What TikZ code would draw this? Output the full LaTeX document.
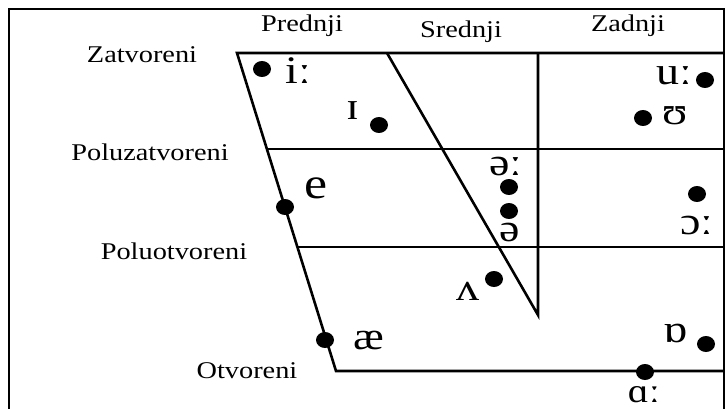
\documentclass[tikz,border=0pt]{standalone}
\usepackage{fontspec}
\setmainfont{Liberation Serif}
\usetikzlibrary{shapes.geometric}
\tikzset{
  lbl/.style={inner sep=0pt, font=\fontsize{24}{28}\selectfont},
  ipa/.style={inner sep=0pt, font=\fontsize{39}{43}\selectfont},
  vdot/.style={ellipse, fill=black, minimum width=18pt, minimum height=16pt, inner sep=0pt},
  chart/.style={line width=2.6pt, line join=miter},
  frame/.style={line width=2pt}
}
\newcommand{\wide}[1]{\scalebox{1.18}[1]{#1}}
\begin{document}
\begin{tikzpicture}[x=1pt,y=-1pt]
\useasboundingbox (0,0) rectangle (725,409);
\clip (0,0) rectangle (725,409);
% outer frame
\draw[frame] (9,420) -- (9,9) -- (724,9) -- (724,420);
% chart corners
\coordinate (tl) at (237,53);
\coordinate (tr) at (724,53);
\coordinate (bl) at (336,371);
\coordinate (br) at (724,371);
\coordinate (m1l) at (267,149);
\coordinate (m1r) at (724,149);
\coordinate (m2l) at (297,247);
\coordinate (m2r) at (724,247);
\coordinate (dtop) at (387,53);
\coordinate (vtop) at (538,53);
\coordinate (vbot) at (538,315);
\draw[chart] (tr) -- (tl) -- (bl) -- (br);
\draw[chart] (m1l) -- (m1r);
\draw[chart] (m2l) -- (m2r);
\draw[chart] (dtop) -- (vbot) -- (vtop);
% column labels
\node[lbl] (pred) at (302,26) {\wide{Prednji}};
\node[lbl] (sred) at (461,32) {\wide{Srednji}};
\node[lbl] (zad) at (628,26) {\wide{Zadnji}};
% row labels
\node[lbl] (zat) at (142,55) {\wide{Zatvoreni}};
\node[lbl] (pzat) at (150,152) {\wide{Poluzatvoreni}};
\node[lbl] (potv) at (174,251) {\wide{Poluotvoreni}};
\node[lbl] (otv) at (247,371) {\wide{Otvoreni}};
% vowels
\node[vdot] (d1) at (262,69) {};
\node[ipa] (v1) at (298,71) {\wide{iː}};
\node[vdot] (d2) at (379,125) {};
\node[ipa] (v2) at (353,111) {\wide{ɪ}};
\node[vdot] (d3) at (705,80) {};
\node[ipa] (v3) at (674,76) {\wide{uː}};
\node[vdot] (d4) at (643,118) {};
\node[ipa] (v4) at (675,116) {\wide{ʊ}};
\node[vdot] (d5) at (285,207) {};
\node[ipa,font=\fontsize{44}{48}\selectfont] (v5) at (316,188) {\wide{e}};
\node[ipa] (v6) at (506,167) {\wide{əː}};
\node[vdot] (d6) at (509,187) {};
\node[vdot] (d7) at (509,211) {};
\node[ipa] (v7) at (510,233) {\wide{ə}};
\node[vdot] (d8) at (697,194) {};
\node[ipa] (v8) at (697,226) {\wide{ɔː}};
\node[vdot] (d9) at (494,279) {};
\node[ipa] (v9) at (468,291) {\wide{ʌ}};
\node[vdot] (d10) at (325,340) {};
\node[ipa] (v10) at (369,340) {\wide{æ}};
\node[vdot] (d11) at (706,344) {};
\node[ipa] (v11) at (676,333) {\wide{ɒ}};
\node[vdot] (d12) at (645,372) {};
\node[ipa,font=\fontsize{34}{38}\selectfont] (v12) at (644,395) {\wide{ɑː}};
\end{tikzpicture}
\end{document}
